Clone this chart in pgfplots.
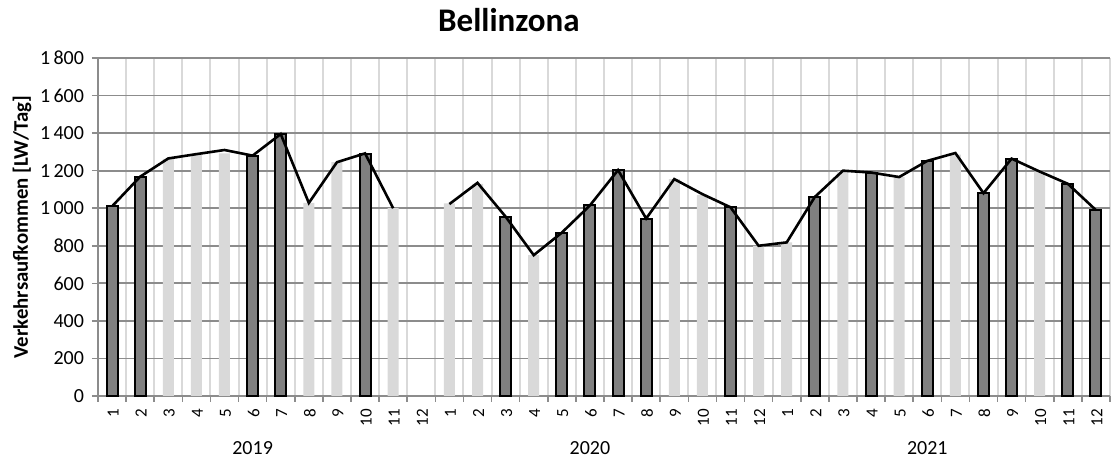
\documentclass[border=0pt]{standalone}
\usepackage{pgfplots}
\pgfplotsset{compat=1.18}
\usepackage{fontspec}
\setmainfont{Carlito}

\definecolor{darkbar}{HTML}{808080}
\definecolor{lightbar}{HTML}{D9D9D9}
\definecolor{hgrid}{HTML}{8C8C8C}
\definecolor{vgrid}{HTML}{D9D9D9}

% month index 1..36 (2019-01 .. 2021-12)
\newcommand{\linedata}{
(1,1010)(2,1168)(3,1265)(4,1288)(5,1310)(6,1280)(7,1395)(8,1028)(9,1245)(10,1292)(11,1000)(12,nan)
(13,1022)(14,1135)(15,955)(16,750)(17,870)(18,1015)(19,1203)(20,945)(21,1155)(22,1075)(23,1005)(24,800)
(25,818)(26,1060)(27,1200)(28,1190)(29,1166)(30,1252)(31,1294)(32,1080)(33,1264)(34,1195)(35,1130)(36,990)}

\begin{document}
\begin{tikzpicture}
\useasboundingbox (-49pt,-34pt) rectangle (508pt,198pt);
\begin{axis}[
  at={(0,0)}, anchor=south west,
  scale only axis, width=506pt, height=169pt,
  xmin=0.5, xmax=36.5, ymin=0, ymax=1800,
  axis x line=bottom, axis y line=left,
  axis line style={hgrid, line width=0.9pt, -},
  xtick={1,...,36},
  xticklabels={1,2,3,4,5,6,7,8,9,10,11,12,1,2,3,4,5,6,7,8,9,10,11,12,1,2,3,4,5,6,7,8,9,10,11,12},
  minor xtick={0.5,1.5,...,36.5},
  major x tick style={draw=none},
  minor x tick style={hgrid, line width=0.8pt},
  minor tick length=3pt,
  xminorgrids=true,
  minor x grid style={vgrid, line width=1pt},
  ytick={0,200,...,1800},
  ymajorgrids=true,
  major y grid style={hgrid, line width=0.9pt},
  y tick style={hgrid, line width=0.8pt},
  major tick length=3pt,
  tick align=outside,
  /pgf/number format/assume math mode=true,
  /pgf/number format/1000 sep={\,},
  yticklabel style={font=\fontsize{10}{11}\selectfont, xshift=-0.5pt},
  xticklabel style={font=\fontsize{8.5}{9}\selectfont, rotate=90, anchor=east, yshift=-0.5pt},
  ylabel={Verkehrsaufkommen [LW/Tag]},
  ylabel style={font=\bfseries\fontsize{10.4}{12}\selectfont, at={(rel axis cs:0,0.5)}, anchor=center, yshift=38pt},
  clip=false,
]
\addplot[ybar, bar width=5.5pt, bar shift=0pt, fill=lightbar, draw=none] coordinates {
(3,1263)(4,1283)(5,1292)(8,1028)(9,1245)(11,1000)(13,1026)(14,1129)(16,750)(21,1155)(22,1070)(24,800)
(25,818)(27,1198)(29,1166)(31,1285)(34,1195)};
\addplot[ybar, bar width=5.5pt, bar shift=0pt, fill=darkbar, draw=black, line width=1pt] coordinates {
(1,1010)(2,1168)(6,1280)(7,1395)(10,1290)(15,955)(17,870)(18,1015)(19,1203)(20,945)(23,1005)
(26,1060)(28,1188)(30,1252)(32,1080)(33,1264)(35,1130)(36,990)};
\addplot[black, line width=1.3pt, mark=none, unbounded coords=jump] coordinates {\linedata};

\node[font=\fontsize{10}{12}\selectfont] at (axis cs:6,0) [yshift=-26pt] {2019};
\node[font=\fontsize{10}{12}\selectfont] at (axis cs:18,0) [yshift=-26pt] {2020};
\node[font=\fontsize{10}{12}\selectfont] at (axis cs:30,0) [yshift=-26pt] {2021};
\node[font=\bfseries\fontsize{16.5}{18}\selectfont, anchor=base] at (rel axis cs:0.406,1) [yshift=13.2pt] {Bellinzona};
\end{axis}
\end{tikzpicture}
\end{document}
